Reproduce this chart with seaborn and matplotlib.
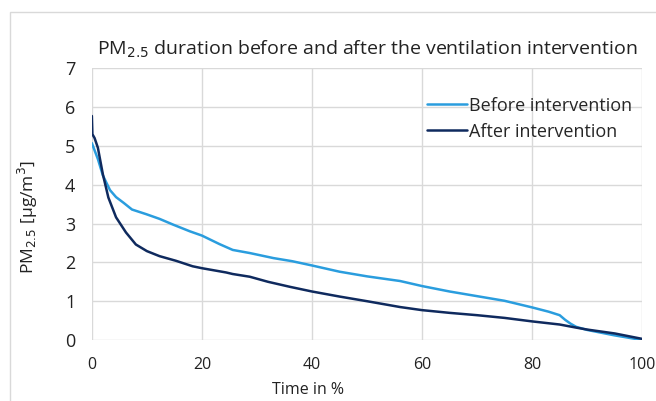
import numpy as np
import pandas as pd
import matplotlib
matplotlib.use('Agg')
import matplotlib.pyplot as plt
import seaborn as sns
from matplotlib.patches import Rectangle

# duration curves (time in %, PM2.5 in ug/m3)
before_x = [0, 1.1, 2.0, 3.3, 4.4, 5.8, 7.3, 9.9, 12.3, 14.8, 17.8, 20, 23.2, 25.6,
            28.7, 33, 36.4, 40, 45, 50, 56, 60, 65, 70, 75, 80, 83, 85, 86, 87, 88, 90, 95, 100]
before_y = [5.07, 4.66, 4.24, 3.86, 3.68, 3.53, 3.36, 3.24, 3.12, 2.97, 2.8, 2.69, 2.47, 2.32,
            2.24, 2.11, 2.03, 1.92, 1.76, 1.64, 1.52, 1.39, 1.25, 1.13, 1.01, 0.84, 0.73, 0.64,
            0.52, 0.42, 0.34, 0.26, 0.12, 0.0]

after_x = [0, 0.1, 0.5, 1.1, 2.0, 3.0, 4.4, 6.2, 8, 10, 12.3, 15.3, 18.3, 20, 24.4,
           25.6, 28.7, 32, 36, 40, 45, 50, 56, 60, 65, 70, 75, 80, 85, 88, 90, 95, 100]
after_y = [5.77, 5.3, 5.2, 4.95, 4.27, 3.67, 3.16, 2.77, 2.46, 2.29, 2.16, 2.04, 1.9, 1.85,
           1.74, 1.7, 1.63, 1.5, 1.37, 1.25, 1.12, 1.0, 0.85, 0.77, 0.7, 0.64, 0.57, 0.48,
           0.4, 0.32, 0.27, 0.17, 0.03]

series_names = ['Before intervention', 'After intervention']
colors = ['#2A9DDE', '#0F2A5E']

df = pd.concat([
    pd.DataFrame({'Time': before_x, 'PM': before_y, 'Series': series_names[0]}),
    pd.DataFrame({'Time': after_x, 'PM': after_y, 'Series': series_names[1]}),
])

sns.set_style('white')
plt.rcParams['font.family'] = ['Open Sans', 'DejaVu Sans']

fig = plt.figure(figsize=(6.56, 4.01), dpi=100)
ax = fig.add_axes([0.140, 0.152, 0.839, 0.678])

# light chart border like the spreadsheet frame
fig.patches.append(Rectangle((10 / 656, -0.1), 1.2, 1 - 12 / 401 + 0.1, transform=fig.transFigure,
                             fill=False, edgecolor='#D9D9D9', linewidth=1))

sns.lineplot(data=df, x='Time', y='PM', hue='Series', palette=colors,
             hue_order=series_names, linewidth=1.8, ax=ax, sort=False, estimator=None)

ax.set_xlim(0, 100)
ax.set_ylim(0, 7)
ax.set_xticks(range(0, 101, 20))
ax.set_yticks(range(0, 8))
ax.grid(True, color='#D9D9D9', linewidth=1)
ax.set_axisbelow(True)
for s in ax.spines.values():
    s.set_visible(False)
ax.tick_params(axis='both', length=0, colors='#222222')
ax.tick_params(axis='y', pad=12, labelsize=13)
ax.tick_params(axis='x', pad=12, labelsize=11.5)

ax.set_xlabel('Time in %', fontsize=11.5, color='#222222')
ax.xaxis.set_label_coords((308 - 92) / 550, -0.155)
ax.set_ylabel(r'PM$_{2.5}$ [µg/m$^3$]', fontsize=12.5, color='#222222')
ax.yaxis.set_label_coords(-0.095, 0.452)
ax.set_title(r'PM$_{2.5}$ duration before and after the ventilation intervention',
             fontsize=14, color='#222222', pad=10)

leg = ax.legend(loc='upper right', bbox_to_anchor=(1.012, 0.955), frameon=False, fontsize=13,
                handlelength=2.2, handletextpad=0.15, labelspacing=0.45)

fig.savefig('out.png', dpi=100)
plt.close(fig)
